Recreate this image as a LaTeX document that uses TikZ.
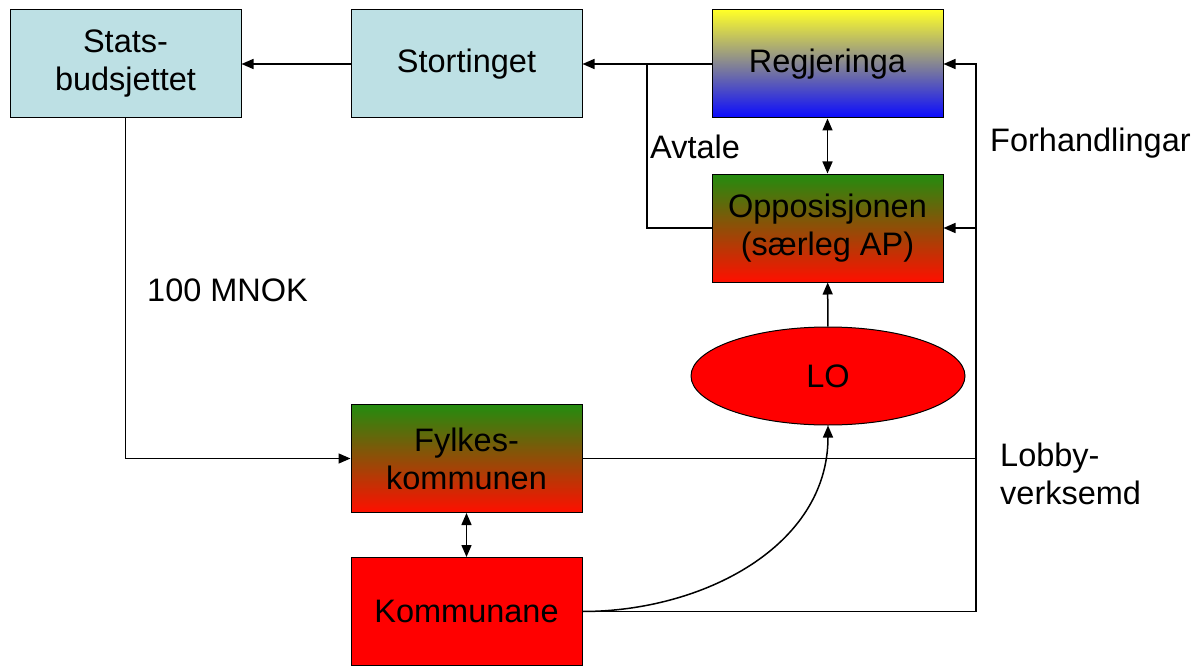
\documentclass[tikz,border=0pt]{standalone}
\usepackage{fontspec}
\setmainfont{Liberation Sans}
\usepackage{xcolor}
\usepackage{tikz}
\usetikzlibrary{shapes.geometric, arrows.meta, calc}
\definecolor{lightcyan}{RGB}{189,224,228}
\definecolor{govyellow}{RGB}{255,255,40}
\definecolor{govmid}{RGB}{200,196,196}
\definecolor{govblue}{RGB}{10,10,255}
\definecolor{oppgreen}{RGB}{35,140,15}
\definecolor{oppmid}{RGB}{160,100,15}
\definecolor{oppred}{RGB}{255,15,0}
\tikzset{
  box/.style={rectangle, draw=black, line width=1pt, inner sep=0pt,
              minimum width=231pt, minimum height=108pt, align=center},
  bluebox/.style={box, fill=lightcyan},
  govbox/.style={box, top color=govyellow, middle color=govmid, bottom color=govblue},
  oppbox/.style={box, top color=oppgreen, middle color=oppmid, bottom color=oppred},
  redbox/.style={box, fill=red},
  label/.style={anchor=west, align=left, inner sep=0pt},
  arrow/.style={-{Triangle[length=12pt,width=10pt]}, line width=1.5pt},
  dblarrow/.style={{Triangle[length=12pt,width=10pt]}-{Triangle[length=12pt,width=10pt]}, line width=1.5pt},
  line/.style={line width=1.5pt}
}
\begin{document}
\begin{tikzpicture}[x=1pt, y=-1pt, font=\fontsize{32.5}{38}\selectfont]
  \useasboundingbox (0,0) rectangle (1202,666);

  % Top row
  \node[bluebox] (stats) at (125.5,64) {Stats-\\budsjettet};
  \node[bluebox] (storting) at (466.5,64) {Stortinget};
  \node[govbox] (regjering) at (827.5,64) {Regjeringa};

  % Right column
  \node[oppbox] (opposisjon) at (827.5,228) {Opposisjonen\\(særleg AP)};
  \node[ellipse, draw=black, line width=1pt, fill=red, inner sep=0pt,
        minimum width=274pt, minimum height=98pt] (lo) at (828,376) {LO};

  % Local level
  \node[oppbox] (fylke) at (466.5,458.5) {Fylkes-\\kommunen};
  \node[redbox] (kommune) at (466.5,611.5) {Kommunane};

  % Helper points
  \coordinate (join) at (647,64);
  \coordinate (bus) at (976,64);

  % Budget flow
  \draw[arrow] (regjering.west) -- (storting.east);
  \draw[arrow] (storting.west) -- (stats.east);
  \draw[line] (opposisjon.west) -| (join);
  \draw[dblarrow] (regjering) -- (opposisjon);
  \draw[arrow] (lo) -- (opposisjon);
  \draw[arrow] (stats.south) |- (fylke.west);
  \draw[dblarrow] (fylke) -- (kommune);

  % Lobbying
  \draw[arrow] (kommune.east) -| (bus) -- (regjering.east);
  \draw[arrow] (bus |- opposisjon.east) -- (opposisjon.east);
  \draw[line] (fylke.east) -- (bus |- fylke.east);
  \draw[arrow] (kommune.east) to[out=0, in=-90] (lo.south);

  % Labels
  \node[label] (avtale) at (650,147) {Avtale};
  \node[label] (forhandling) at (990,143) {Forhandlingar};
  \node[label] (mnok) at (147,290) {100 MNOK};
  \node[label] (lobby) at (1000,474) {Lobby-\\verksemd};
\end{tikzpicture}
\end{document}
